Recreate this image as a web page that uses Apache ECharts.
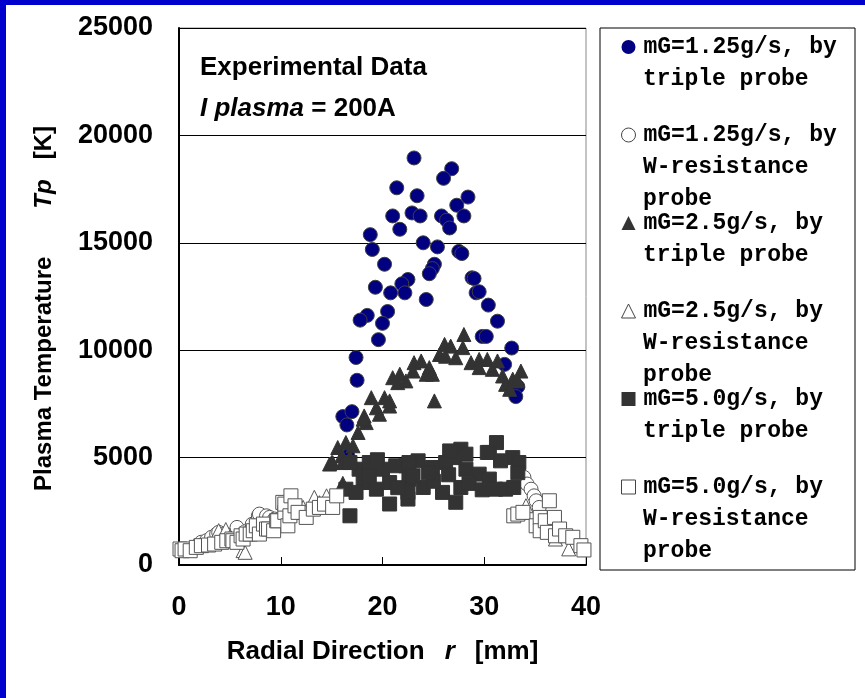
<!DOCTYPE html>
<html>
<head>
<meta charset="utf-8">
<script src="https://cdn.jsdelivr.net/npm/echarts@6/dist/echarts.min.js"></script>
<style>
  html, body { margin: 0; padding: 0; background: #fff; }
  #chart { width: 865px; height: 698px; }
</style>
</head>
<body>
<div id="chart"></div>
<script>
// Series data, [r (mm), Tp (K)]
var triple125 = [
    [23.1, 18950], [26.8, 18450], [26.0, 18000], [21.4, 17560], [23.4, 17190], [28.4, 17130],
    [27.3, 16750], [21.0, 16250], [22.9, 16390], [23.7, 16250], [25.8, 16250], [26.3, 16050],
    [26.6, 15690], [28.0, 16250], [21.7, 15630], [18.8, 15380], [19.0, 14690], [24.0, 15000],
    [25.4, 14810], [27.5, 14600], [27.8, 14500], [20.2, 14000], [25.1, 14000], [24.9, 13800],
    [24.6, 13560], [28.8, 13370], [29.0, 13340], [22.5, 13290], [21.9, 13090], [19.3, 12930],
    [20.8, 12670], [22.2, 12670], [29.2, 12670], [29.5, 12720], [24.3, 12360], [30.4, 12100],
    [18.5, 11620], [17.8, 11400], [20.5, 11800], [20.0, 11250], [31.3, 11350], [19.6, 10490],
    [29.8, 10640], [30.2, 10640], [32.7, 10100], [17.4, 9660], [17.5, 8600], [32.0, 9340],
    [33.3, 8300], [33.1, 7840], [16.1, 6910], [17.0, 7140], [16.5, 6520], [16.6, 5080]
];
var wres125 = [
    [2.2, 1060], [2.7, 1130], [3.2, 1290], [3.7, 1440], [3.9, 1520], [4.5, 1450], [5.2, 1400],
    [5.7, 1290], [5.7, 1750], [6.5, 1550], [7.2, 1900], [7.8, 2290], [7.9, 2370], [8.6, 2290],
    [8.9, 2215], [9.4, 2140], [10.0, 2100],
    [33.9, 4080], [34.2, 3770], [34.6, 3530], [34.9, 3220], [35.1, 2990], [35.4, 2680]
];
var triple25 = [
    [28.0, 10730], [26.1, 10270], [26.7, 10190], [27.9, 10120], [25.6, 9800], [26.2, 9720],
    [27.2, 9650], [23.1, 9420], [23.8, 9500], [24.6, 9190], [24.9, 8880], [24.3, 8880],
    [23.0, 9030], [21.7, 8880], [21.0, 8720], [22.3, 8570], [28.7, 9420], [29.5, 9570],
    [30.3, 9570], [31.3, 9500], [29.5, 9190], [30.8, 9110], [31.8, 8800], [33.6, 9030],
    [32.8, 8650], [32.1, 8410], [33.3, 8570], [32.5, 8180], [25.1, 7640], [18.9, 7790],
    [20.2, 7790], [20.7, 7640], [19.4, 7320], [19.7, 7020], [18.2, 6940], [18.4, 6630],
    [17.6, 6170], [16.4, 5700], [15.6, 5470], [17.1, 5550], [15.0, 4770], [16.0, 5080],
    [16.8, 5000], [14.8, 4700], [16.1, 4770], [18.1, 6790], [20.7, 7400], [21.5, 8490],
    [16.1, 3800], [15.1, 4770]
];
var wres25 = [
    [1.5, 900], [3.9, 1600], [4.6, 1650], [5.0, 1300], [6.3, 670], [6.5, 590], [7.5, 1700],
    [10.2, 2000], [11.6, 2450], [12.2, 2680], [13.3, 3150], [13.8, 2900], [14.5, 3220],
    [33.8, 2450], [34.1, 2760], [36.0, 1680], [37.0, 1210], [38.3, 750]
];
var triple50 = [
    [31.2, 5700], [30.5, 5240], [27.7, 5390], [28.2, 5160], [27.1, 5000], [32.8, 5000],
    [33.4, 4770], [31.6, 4850], [26.2, 4770], [23.5, 4850], [22.3, 4620], [24.9, 4540],
    [28.2, 4460], [29.5, 4230], [30.5, 4000], [22.6, 4000], [24.0, 3610], [25.9, 3380],
    [27.7, 3610], [32.1, 3530], [22.5, 3070], [27.2, 2920], [31.1, 3530], [32.9, 3610],
    [16.8, 2290], [16.4, 3530], [18.1, 3840], [17.7, 4460], [16.8, 4770], [18.7, 4770],
    [21.3, 4620], [22.6, 4770], [20.0, 4460], [18.7, 4150], [20.7, 3840], [22.5, 3380],
    [20.7, 2840], [19.4, 3530], [17.4, 3380], [23.0, 4150], [26.6, 5310], [30.3, 5240],
    [25.0, 3900], [26.5, 4200], [28.5, 3800], [29.8, 3500], [33.3, 4300], [21.5, 3600],
    [24.5, 4300], [19.5, 4900]
];
var wres50 = [
    [0.1, 745], [0.3, 665], [0.6, 745], [1.1, 665], [1.7, 820], [2.2, 900], [2.9, 930],
    [3.5, 975], [4.2, 1055], [4.7, 1130], [5.2, 1210], [5.3, 1130], [5.7, 1055], [6.1, 1360],
    [6.3, 1210], [6.6, 1440], [7.0, 1440], [7.3, 1595], [7.6, 1825], [7.9, 1440], [8.3, 1905],
    [8.6, 1675], [8.8, 1675], [9.3, 1595], [9.6, 2060], [9.7, 2060], [10.2, 2915], [10.4, 2450],
    [10.4, 2835], [10.7, 1825], [10.9, 2290], [11.0, 3220], [11.4, 2755], [11.7, 2450],
    [12.5, 2215], [13.2, 2600], [13.8, 2680], [14.3, 2835], [15.1, 2680], [15.5, 3220],
    [32.9, 2290], [33.3, 2370], [33.8, 2450], [35.1, 1825], [35.5, 2215], [35.5, 1595],
    [36.0, 2060], [36.2, 1520], [36.4, 2990], [36.9, 2215], [37.0, 1360], [37.4, 1675],
    [38.0, 1360], [38.7, 1290], [39.5, 900], [39.8, 700]
];

var seriesNames = [
    'mG=1.25g/s, by\ntriple probe',
    'mG=1.25g/s, by\nW-resistance\nprobe',
    'mG=2.5g/s, by\ntriple probe',
    'mG=2.5g/s, by\nW-resistance\nprobe',
    'mG=5.0g/s, by\ntriple probe',
    'mG=5.0g/s, by\nW-resistance\nprobe'
];
var xTicks = [0, 10, 20, 30, 40];
var yTicks = [0, 5000, 10000, 15000, 20000, 25000];

var seriesData = [triple125, wres125, triple25, wres25, triple50, wres50];
var symbols = ['circle', 'circle', 'triangle', 'triangle', 'rect', 'rect'];
var sizes = [14, 14, 14, 14, 14, 14];
var fills = ['#000080', '#ffffff', '#333333', '#ffffff', '#333333', '#ffffff'];
var strokes = ['#404040', '#555555', '#333333', '#555555', '#333333', '#555555'];

var labelFont = 'Liberation Sans';
var monoFont = 'Liberation Mono';
var lineH = 32;
var legendY0 = 47;   // centre of the first legend icon
var legendStep = 88;
var legendTextX = 643;

var series = seriesData.map(function(d, i) {
    return {
        name: seriesNames[i],
        type: 'scatter',
        data: d,
        symbol: symbols[i],
        symbolSize: sizes[i],
        itemStyle: { color: fills[i], borderColor: strokes[i], borderWidth: 1, opacity: 1 },
        emphasis: { disabled: true }
    };
});

var legendFontStyle = {
    fontFamily: monoFont,
    fontWeight: 'bold',
    fontSize: 23,
    lineHeight: lineH,
    color: '#000',
    rich: {
        t: { fontFamily: monoFont, fontWeight: 'bold', fontSize: 23, lineHeight: lineH, color: '#000', padding: [0, 0, 0, 3] }
    }
};

// the legend shows the first line of each name, the rest follows underneath
var legendRest = seriesNames.map(function(name, i) {
    return {
        type: 'text',
        x: legendTextX,
        y: legendY0 + legendStep * i + lineH / 2,
        silent: true,
        style: {
            text: name.split('\n').slice(1).join('\n'),
            fontFamily: monoFont,
            fontWeight: 'bold',
            fontSize: 23,
            lineHeight: lineH,
            fill: '#000',
            verticalAlign: 'top'
        }
    };
});

var chart = echarts.init(document.getElementById('chart'));
chart.setOption({
    backgroundColor: '#ffffff',
    animation: false,
    grid: {
        left: 179, right: 279, top: 28, bottom: 133,
        show: true, borderColor: '#888', borderWidth: 1
    },
    legend: {
        orient: 'vertical',
        left: 621,
        top: legendY0 - lineH / 2,
        padding: 0,
        itemGap: legendStep - lineH,
        itemWidth: 14,
        itemHeight: 14,
        selectedMode: false,
        data: seriesNames.map(function(name, i) {
            return { name: name, itemStyle: { borderWidth: i % 2 ? 1 : 0, borderColor: '#444' } };
        }),
        formatter: function(name) { return '{t|' + name.split('\n')[0] + '}'; },
        textStyle: legendFontStyle
    },
    xAxis: {
        type: 'value', min: 0, max: 40, interval: 10,
        axisLine: { lineStyle: { color: '#000', width: 2 } },
        axisTick: { inside: true, length: 8, lineStyle: { color: '#000' } },
        splitLine: { show: false },
        axisLabel: {
            fontFamily: labelFont, fontWeight: 'bold', fontSize: 27, color: '#000', margin: 29,
            formatter: function(v) { return xTicks.indexOf(v) >= 0 ? String(v) : ''; }
        },
        name: '{n|Radial Direction}{i|r}{n|[mm]}',
        nameLocation: 'middle',
        nameGap: 74,
        nameTextStyle: {
            rich: {
                n: { fontFamily: labelFont, fontWeight: 'bold', fontSize: 26, color: '#000' },
                i: { fontFamily: labelFont, fontWeight: 'bold', fontStyle: 'italic', fontSize: 26, color: '#000', padding: [0, 20, 0, 20] }
            }
        }
    },
    yAxis: {
        type: 'value', min: 0, max: 25000, interval: 5000,
        axisLine: { show: true, lineStyle: { color: '#000', width: 2 } },
        axisTick: { show: true, inside: true, length: 5, lineStyle: { color: '#000' } },
        splitLine: { show: true, lineStyle: { color: '#000', width: 1 } },
        axisLabel: {
            fontFamily: labelFont, fontWeight: 'bold', fontSize: 27, color: '#000', margin: 26,
            formatter: function(v) { return yTicks.indexOf(v) >= 0 ? String(v) : ''; }
        },
        name: '{n|Plasma Temperature}{i|Tp}{k|[K]}',
        nameLocation: 'middle',
        nameRotate: 90,
        nameGap: 123,
        nameTextStyle: {
            rich: {
                n: { fontFamily: labelFont, fontWeight: 'bold', fontSize: 24, color: '#000' },
                i: { fontFamily: labelFont, fontWeight: 'bold', fontStyle: 'italic', fontSize: 24, color: '#000', padding: [0, 20, 0, 48] },
                k: { fontFamily: labelFont, fontWeight: 'bold', fontSize: 24, color: '#000', padding: [0, 24, 0, 0] }
            }
        }
    },
    graphic: [
        { type: 'rect', left: 0, top: 0, shape: { width: 6, height: 698 }, style: { fill: '#0000cc' } },
        { type: 'rect', left: 0, top: 0, shape: { width: 865, height: 5 }, style: { fill: '#0000cc' } },
        { type: 'rect', x: 600, y: 28, shape: { width: 255, height: 542 }, style: { fill: 'none', stroke: '#000', lineWidth: 1 }, z: -1 },
        { type: 'text', left: 200, top: 55, style: { text: 'Experimental Data', fontFamily: labelFont, fontWeight: 'bold', fontSize: 26, fill: '#000' } },
        { type: 'text', left: 200, top: 96, style: {
            text: '{i|I plasma} = 200A',
            rich: { i: { fontFamily: labelFont, fontWeight: 'bold', fontStyle: 'italic', fontSize: 26 } },
            fontFamily: labelFont, fontWeight: 'bold', fontSize: 26, fill: '#000' } }
    ].concat(legendRest),
    series: series
});
</script>
</body>
</html>
